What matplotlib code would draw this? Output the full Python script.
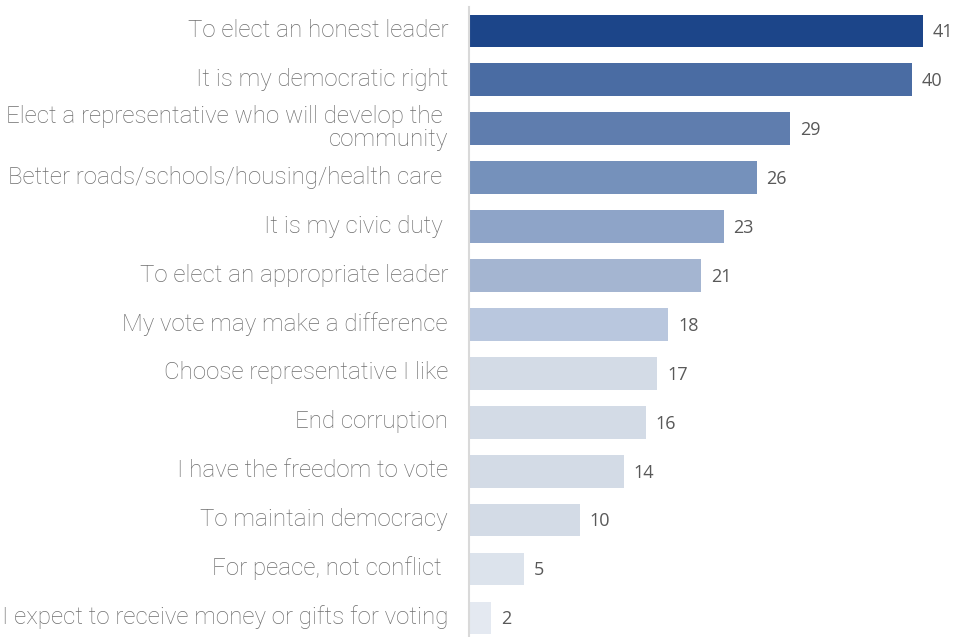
import numpy as np
import matplotlib
matplotlib.use("Agg")
import matplotlib.pyplot as plt
from matplotlib.transforms import ScaledTranslation

# reasons for voting, % of respondents
reasons = [
    "To elect an honest leader",
    "It is my democratic right",
    "Elect a representative who will develop the \ncommunity",
    "Better roads/schools/housing/health care ",
    "It is my civic duty ",
    "To elect an appropriate leader",
    "My vote may make a difference",
    "Choose representative I like",
    "End corruption",
    "I have the freedom to vote",
    "To maintain democracy",
    "For peace, not conflict ",
    "I expect to receive money or gifts for voting",
]
values = [41, 40, 29, 26, 23, 21, 18, 17, 16, 14, 10, 5, 2]
colors = [
    "#1c4589", "#4a6ca3", "#5f7dae", "#7591bb", "#8ea4c8", "#a4b5d1",
    "#b9c7de", "#d3dbe6", "#d3dbe6", "#d3dbe6", "#d3dbe6", "#dce3ec", "#e4e9f1",
]

W, H = 958, 637
fig = plt.figure(figsize=(W / 100, H / 100), dpi=100)
ax = fig.add_axes([469 / W, 0, (W - 469) / W, 630 / H])

y = np.arange(len(values))
ax.barh(y, values, height=0.67, color=colors)
ax.set_xlim(0, 44.17)
ax.set_ylim(12.39, -0.49)

for yi, v in zip(y, values):
    ax.annotate(str(v), (v, yi), xytext=(7, -1), textcoords="offset points",
                ha="left", va="center", fontsize=13, color="#595959",
                family="Open Sans")

# category labels, right aligned a little left of the axis line
lab_tr = ax.get_yaxis_transform() + ScaledTranslation(-0.21, 0.005, fig.dpi_scale_trans)
for yi, r in zip(y, reasons):
    ax.text(0, yi, r, transform=lab_tr, ha="right", va="center",
            multialignment="right", fontsize=17.4, color="#6e6e6e",
            family="Roboto", fontweight="light", linespacing=1.0)

ax.set_yticks([])
ax.set_xticks([])

for s in ["top", "right", "bottom"]:
    ax.spines[s].set_visible(False)
ax.spines["left"].set_color("#d9d9d9")
ax.spines["left"].set_linewidth(1.5)

fig.savefig("out.png", dpi=100)
